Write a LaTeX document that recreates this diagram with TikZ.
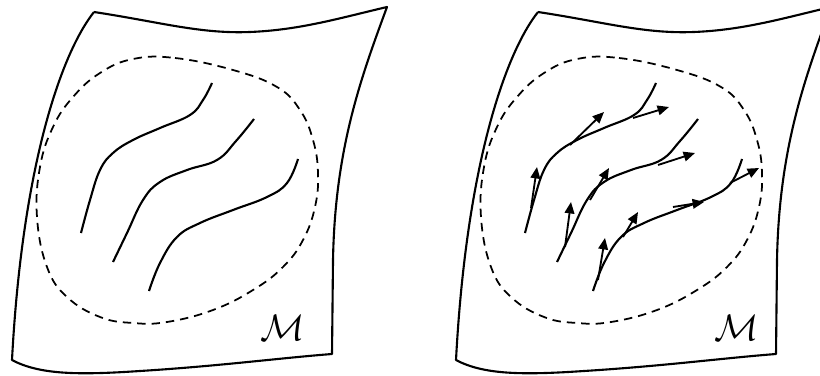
\documentclass[tikz,border=0pt]{standalone}
\usetikzlibrary{arrows.meta}
\tikzset{
  sheet/.style={line width=1.2pt, line join=round},
  region/.style={line width=1pt, dash pattern=on 4.8pt off 3.4pt},
  flowline/.style={line width=1.2pt},
  vec/.style={line width=1.05pt, -{Triangle[length=6.5pt,width=5.5pt]}},
  lbl/.style={scale=2.1, inner sep=0pt}
}
\begin{document}
\begin{tikzpicture}[x=0.02cm, y=-0.02cm]
\useasboundingbox (0,0) rectangle (820,375);
\foreach \dx in {0, 444}{
  \begin{scope}[xshift=\dx*0.02cm]
    % surface M
    \draw[sheet] (94,12) .. controls (160,22) and (200,34) .. (250,32)
                 .. controls (300,30) and (340,18) .. (387,7)
                 .. controls (360,80) and (335,150) .. (333,260)
                 -- (332,354)
                 .. controls (280,358) and (220,366) .. (140,371)
                 .. controls (80,375) and (40,375) .. (12,360)
                 .. controls (22,170) and (60,55) .. (94,12);
    % dashed neighbourhood
    \draw[region] plot[smooth cycle, tension=0.7] coordinates {
      (133,59) (175,58) (233,70) (277,87) (300,110) (313,140) (318,173) (315,207)
      (303,240) (283,267) (253,290) (213,310) (167,322) (133,323) (100,317)
      (67,297) (47,267) (37,217) (40,167) (53,127) (73,97) (100,73)};
    % integral curves
    \draw[flowline] plot[smooth, tension=0.7] coordinates {
      (81,233) (90,200) (100,170) (113,153) (133,140) (160,128) (190,115) (203,100) (212,83)};
    \draw[flowline] plot[smooth, tension=0.7] coordinates {
      (113,262) (127,233) (143,200) (160,182) (187,170) (217,160) (236,141) (254,119)};
    \draw[flowline] plot[smooth, tension=0.7] coordinates {
      (149,291) (160,263) (177,237) (200,223) (233,210) (267,197) (287,183) (298,159)};
  \end{scope}
}
% labels
\node[lbl] (ML) at (283,328) {$\mathcal{M}$};
\node[lbl] (MR) at (737,328) {$\mathcal{M}$};
% tangent vectors (right panel)
\coordinate (a1s) at (531,208); \coordinate (a1t) at (537,167);
\coordinate (a2s) at (570,145); \coordinate (a2t) at (604,112);
\coordinate (a3s) at (633,118); \coordinate (a3t) at (669,107);
\coordinate (b1s) at (565,247); \coordinate (b1t) at (571,202);
\coordinate (b2s) at (590,200); \coordinate (b2t) at (609,168);
\coordinate (b3s) at (658,165); \coordinate (b3t) at (695,153);
\coordinate (c1s) at (598,280); \coordinate (c1t) at (605,238);
\coordinate (c2s) at (623,237); \coordinate (c2t) at (638,212);
\coordinate (c3s) at (673,207); \coordinate (c3t) at (704,202);
\coordinate (c4s) at (730,183); \coordinate (c4t) at (759,168);
\foreach \v in {a1,a2,a3,b1,b2,b3,c1,c2,c3,c4}{
  \draw[vec] (\v s) -- (\v t);
}
\end{tikzpicture}
\end{document}
